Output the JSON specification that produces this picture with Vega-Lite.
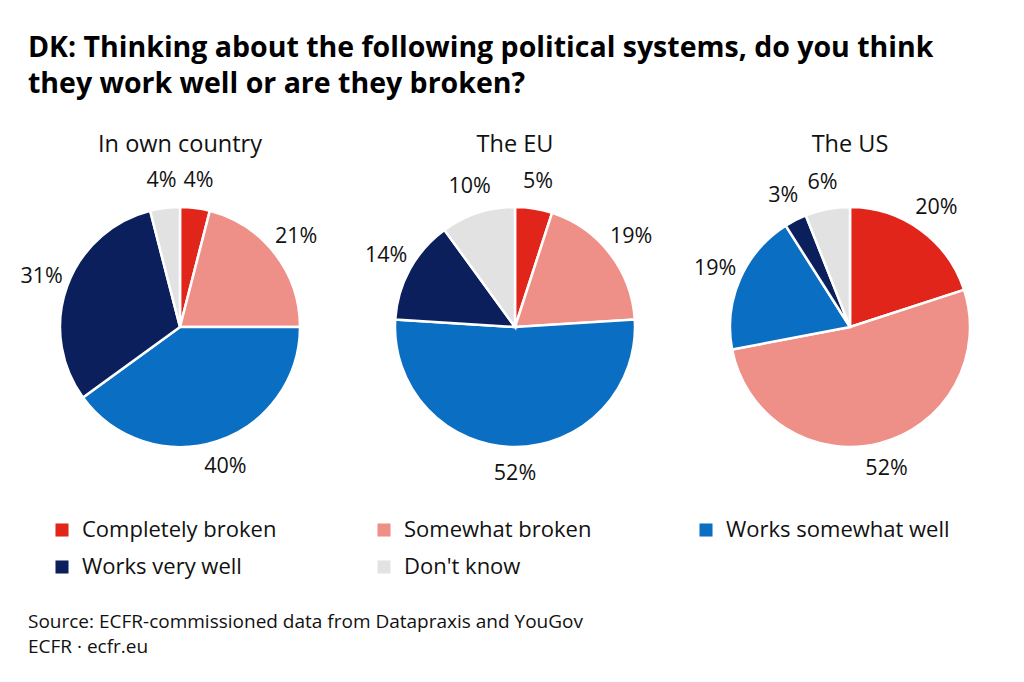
{
  "$schema": "https://vega.github.io/schema/vega-lite/v6.json",
  "background": "white",
  "padding": {"left": 15, "top": 34, "right": 5, "bottom": 5},
  "title": {
    "text": ["Source: ECFR-commissioned data from Datapraxis and YouGov", "ECFR · ecfr.eu"],
    "orient": "bottom", "anchor": "start", "fontSize": 19, "fontWeight": "normal",
    "font": "Open Sans", "color": "#111111", "lineHeight": 25, "offset": 35, "dx": 13
  },
  "data": {
    "values": [
      {"system": "In own country", "category": "Completely broken", "k": 1, "value": 4},
      {"system": "In own country", "category": "Somewhat broken", "k": 2, "value": 21},
      {"system": "In own country", "category": "Works somewhat well", "k": 3, "value": 40},
      {"system": "In own country", "category": "Works very well", "k": 4, "value": 31},
      {"system": "In own country", "category": "Don't know", "k": 5, "value": 4},
      {"system": "The EU", "category": "Completely broken", "k": 1, "value": 5},
      {"system": "The EU", "category": "Somewhat broken", "k": 2, "value": 19},
      {"system": "The EU", "category": "Works somewhat well", "k": 3, "value": 52},
      {"system": "The EU", "category": "Works very well", "k": 4, "value": 14},
      {"system": "The EU", "category": "Don't know", "k": 5, "value": 10},
      {"system": "The US", "category": "Completely broken", "k": 1, "value": 20},
      {"system": "The US", "category": "Somewhat broken", "k": 2, "value": 52},
      {"system": "The US", "category": "Works somewhat well", "k": 3, "value": 19},
      {"system": "The US", "category": "Works very well", "k": 4, "value": 3},
      {"system": "The US", "category": "Don't know", "k": 5, "value": 6}
    ]
  },
  "vconcat": [
    {
      "title": {
        "text": ["DK: Thinking about the following political systems, do you think", "they work well or are they broken?"],
        "anchor": "start", "fontSize": 28.5, "fontWeight": "bold", "font": "Open Sans",
        "color": "#000000", "lineHeight": 36, "offset": 34, "dx": 13
      },
      "facet": {
        "column": {
          "field": "system", "type": "nominal",
          "sort": ["In own country", "The EU", "The US"],
          "header": {"title": null, "labelFontSize": 23.5, "labelFont": "Open Sans", "labelColor": "#111111", "labelPadding": 14}
        }
      },
      "spacing": 5,
      "spec": {
        "width": 330,
        "height": 300,
        "transform": [{"calculate": "datum.value + '%'", "as": "label"}],
        "layer": [
          {
            "mark": {"type": "arc", "outerRadius": 120, "stroke": "white", "strokeWidth": 2.5},
            "encoding": {
              "theta": {"field": "value", "type": "quantitative", "stack": true},
              "order": {"field": "k", "type": "quantitative"},
              "color": {
                "field": "category", "type": "nominal",
                "scale": {
                  "domain": ["Completely broken", "Somewhat broken", "Works somewhat well", "Works very well", "Don't know"],
                  "range": ["#E1251B", "#EE9088", "#0A6FC2", "#0B1F5C", "#E2E2E2"]
                },
                "legend": {
                  "orient": "none", "legendX": 36, "legendY": 342, "columns": 3, "direction": "horizontal",
                  "title": null, "symbolType": "square", "symbolSize": 170, "symbolStrokeWidth": 0,
                  "labelFontSize": 22, "labelFont": "Open Sans", "labelColor": "#111111",
                  "labelLimit": 400, "labelOffset": 9, "rowPadding": 15, "columnPadding": 67, "gridAlign": "all"
                }
              }
            }
          },
          {
            "mark": {"type": "text", "radius": 147, "fontSize": 21.5, "font": "Open Sans", "color": "#111111"},
            "encoding": {
              "theta": {"field": "value", "type": "quantitative", "stack": true},
              "order": {"field": "k", "type": "quantitative"},
              "text": {"field": "label", "type": "nominal"}
            }
          }
        ]
      }
    }
  ],
  "config": {"view": {"stroke": null}}
}
